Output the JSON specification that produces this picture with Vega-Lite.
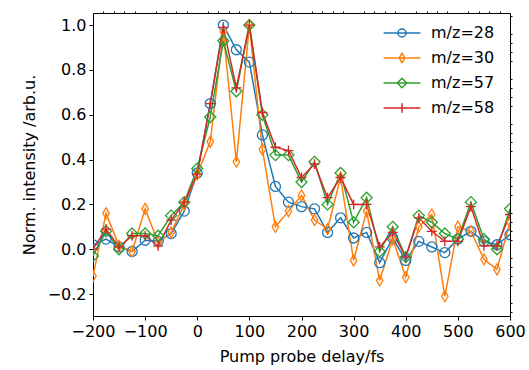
{
  "$schema": "https://vega.github.io/schema/vega-lite/v6.json",
  "width": 417,
  "height": 303,
  "autosize": "none",
  "padding": {"left": 93, "top": 13, "right": 19, "bottom": 54},
  "config": {
    "font": "DejaVu Sans",
    "view": {"stroke": "black", "strokeWidth": 1},
    "axis": {"grid": false, "domainColor": "black", "tickColor": "black", "labelColor": "black", "titleColor": "black", "labelFontSize": 16, "titleFontSize": 16, "titleFontWeight": "normal", "tickSize": 4, "domainWidth": 1, "labelOverlap": false, "labelFlush": false}
  },
  "data": {"values": [
    {"t": -200, "m/z=28": 0.02, "m/z=30": -0.12, "m/z=57": -0.03, "m/z=58": 0.0},
    {"t": -175, "m/z=28": 0.045, "m/z=30": 0.16, "m/z=57": 0.08, "m/z=58": 0.09},
    {"t": -150, "m/z=28": 0.01, "m/z=30": 0.015, "m/z=57": 0.0, "m/z=58": 0.01},
    {"t": -125, "m/z=28": -0.01, "m/z=30": -0.01, "m/z=57": 0.07, "m/z=58": 0.06},
    {"t": -100, "m/z=28": 0.04, "m/z=30": 0.18, "m/z=57": 0.07, "m/z=58": 0.06},
    {"t": -75, "m/z=28": 0.035, "m/z=30": 0.03, "m/z=57": 0.06, "m/z=58": 0.015},
    {"t": -50, "m/z=28": 0.07, "m/z=30": 0.075, "m/z=57": 0.15, "m/z=58": 0.13},
    {"t": -25, "m/z=28": 0.17, "m/z=30": 0.2, "m/z=57": 0.21, "m/z=58": 0.21},
    {"t": 0, "m/z=28": 0.34, "m/z=30": 0.335, "m/z=57": 0.36, "m/z=58": 0.335},
    {"t": 25, "m/z=28": 0.65, "m/z=30": 0.48, "m/z=57": 0.59, "m/z=58": 0.65},
    {"t": 50, "m/z=28": 1.0, "m/z=30": 0.97, "m/z=57": 0.93, "m/z=58": 0.99},
    {"t": 75, "m/z=28": 0.89, "m/z=30": 0.39, "m/z=57": 0.705, "m/z=58": 0.72},
    {"t": 100, "m/z=28": 0.835, "m/z=30": 1.0, "m/z=57": 1.0, "m/z=58": 1.0},
    {"t": 125, "m/z=28": 0.51, "m/z=30": 0.445, "m/z=57": 0.6, "m/z=58": 0.61},
    {"t": 150, "m/z=28": 0.28, "m/z=30": 0.1, "m/z=57": 0.42, "m/z=58": 0.455},
    {"t": 175, "m/z=28": 0.21, "m/z=30": 0.17, "m/z=57": 0.42, "m/z=58": 0.44},
    {"t": 200, "m/z=28": 0.19, "m/z=30": 0.24, "m/z=57": 0.3, "m/z=58": 0.32},
    {"t": 225, "m/z=28": 0.18, "m/z=30": 0.13, "m/z=57": 0.39, "m/z=58": 0.38},
    {"t": 250, "m/z=28": 0.075, "m/z=30": 0.09, "m/z=57": 0.2, "m/z=58": 0.23},
    {"t": 275, "m/z=28": 0.14, "m/z=30": 0.32, "m/z=57": 0.34, "m/z=58": 0.32},
    {"t": 300, "m/z=28": 0.05, "m/z=30": -0.05, "m/z=57": 0.12, "m/z=58": 0.2},
    {"t": 325, "m/z=28": 0.075, "m/z=30": 0.17, "m/z=57": 0.23, "m/z=58": 0.2},
    {"t": 350, "m/z=28": -0.06, "m/z=30": -0.14, "m/z=57": -0.01, "m/z=58": 0.01},
    {"t": 375, "m/z=28": 0.05, "m/z=30": 0.045, "m/z=57": 0.1, "m/z=58": 0.075},
    {"t": 400, "m/z=28": -0.05, "m/z=30": -0.125, "m/z=57": -0.035, "m/z=58": -0.035},
    {"t": 425, "m/z=28": 0.035, "m/z=30": 0.1, "m/z=57": 0.15, "m/z=58": 0.14},
    {"t": 450, "m/z=28": 0.01, "m/z=30": 0.155, "m/z=57": 0.12, "m/z=58": 0.08},
    {"t": 475, "m/z=28": -0.015, "m/z=30": -0.21, "m/z=57": 0.07, "m/z=58": 0.035},
    {"t": 500, "m/z=28": 0.045, "m/z=30": 0.1, "m/z=57": 0.045, "m/z=58": 0.035},
    {"t": 525, "m/z=28": 0.08, "m/z=30": 0.08, "m/z=57": 0.21, "m/z=58": 0.19},
    {"t": 550, "m/z=28": 0.035, "m/z=30": -0.045, "m/z=57": 0.045, "m/z=58": 0.015},
    {"t": 575, "m/z=28": 0.02, "m/z=30": -0.09, "m/z=57": 0.0, "m/z=58": 0.015},
    {"t": 600, "m/z=28": 0.065, "m/z=30": 0.12, "m/z=57": 0.18, "m/z=58": 0.155}
  ]},
  "transform": [{"fold": ["m/z=28", "m/z=30", "m/z=57", "m/z=58"], "as": ["series", "v"]}],
  "resolve": {"axis": {"x": "independent", "y": "independent"}},
  "layer": [
    {
      "mark": {"type": "line", "strokeWidth": 1.5, "clip": true},
      "encoding": {
        "x": {"field": "t", "type": "quantitative", "scale": {"domain": [-200, 600], "nice": false, "zero": false},
              "axis": {"values": [-200, -100, 0, 100, 200, 300, 400, 500, 600], "format": "d", "title": "Pump probe delay/fs", "labelPadding": 3, "titlePadding": 9}},
        "y": {"field": "v", "type": "quantitative", "scale": {"domain": [-0.298, 1.054], "nice": false, "zero": false},
              "axis": {"values": [-0.2, 0, 0.2, 0.4, 0.6, 0.8, 1.0], "format": ".1f", "title": "Norm. intensity /arb.u.", "labelPadding": 3, "titlePadding": 10}},
        "color": {"field": "series", "type": "nominal",
                  "scale": {"domain": ["m/z=28", "m/z=30", "m/z=57", "m/z=58"], "range": ["#1f77b4", "#ff7f0e", "#2ca02c", "#d62728"]},
                  "legend": {"title": null, "orient": "none", "legendX": 301, "legendY": 12, "padding": 0, "symbolSize": 64, "labelFontSize": 16, "labelColor": "black", "labelOffset": 21, "rowPadding": 9, "symbolStrokeWidth": 1.5, "symbolFillColor": "transparent",
                    "encode": {"symbols": {"update": {"shape": {"signal": "datum.value === 'm/z=28' ? 'M-4.6,0L4.6,0M1,0A1,1,0,1,1,-1,0A1,1,0,1,1,1,0' : datum.value === 'm/z=30' ? 'M-4.6,0L4.6,0M0,-1.2L0.7,0L0,1.2L-0.7,0Z' : datum.value === 'm/z=57' ? 'M-4.6,0L4.6,0M0,-1.2L1.2,0L0,1.2L-1.2,0Z' : 'M-4.6,0L4.6,0M0,-1.2L0,1.2'"}, "fill": {"value": "transparent"}, "strokeWidth": {"value": 1.5}}}}}}
      }
    },
    {
      "transform": [{"filter": "datum.series === 'm/z=28'"}],
      "mark": {"type": "point", "filled": false, "size": 100, "strokeWidth": 1.3, "opacity": 1, "clip": true, "shape": "circle", "color": "#1f77b4"},
      "encoding": {
        "x": {"field": "t", "type": "quantitative",
              "axis": {"values": [-180, -160, -140, -120, -80, -60, -40, -20, 20, 40, 60, 80, 120, 140, 160, 180, 220, 240, 260, 280, 320, 340, 360, 380, 420, 440, 460, 480, 520, 540, 560, 580], "labels": false, "domain": false, "tickSize": 2, "title": null}},
        "y": {"field": "v", "type": "quantitative",
              "axis": {"values": [-0.28, -0.24, -0.16, -0.12, -0.08, -0.04, 0.04, 0.08, 0.12, 0.16, 0.24, 0.28, 0.32, 0.36, 0.44, 0.48, 0.52, 0.56, 0.64, 0.68, 0.72, 0.76, 0.84, 0.88, 0.92, 0.96, 1.04], "labels": false, "domain": false, "tickSize": 2, "title": null}}
      }
    },
    {
      "transform": [{"filter": "datum.series === 'm/z=30'"}],
      "mark": {"type": "point", "filled": false, "size": 100, "strokeWidth": 1.3, "opacity": 1, "clip": true, "shape": "M0,-1.1L0.65,0L0,1.1L-0.65,0Z", "color": "#ff7f0e"},
      "encoding": {
        "x": {"field": "t", "type": "quantitative", "axis": null},
        "y": {"field": "v", "type": "quantitative", "axis": null}
      }
    },
    {
      "transform": [{"filter": "datum.series === 'm/z=57'"}],
      "mark": {"type": "point", "filled": false, "size": 100, "strokeWidth": 1.3, "opacity": 1, "clip": true, "shape": "M0,-1.1L1.1,0L0,1.1L-1.1,0Z", "color": "#2ca02c"},
      "encoding": {
        "x": {"field": "t", "type": "quantitative", "axis": null},
        "y": {"field": "v", "type": "quantitative", "axis": null}
      }
    },
    {
      "transform": [{"filter": "datum.series === 'm/z=58'"}],
      "mark": {"type": "point", "filled": false, "size": 100, "strokeWidth": 1.3, "opacity": 1, "clip": true, "shape": "M-1,0L1,0M0,-1L0,1", "color": "#d62728"},
      "encoding": {
        "x": {"field": "t", "type": "quantitative", "axis": null},
        "y": {"field": "v", "type": "quantitative", "axis": null}
      }
    }
  ]
}
